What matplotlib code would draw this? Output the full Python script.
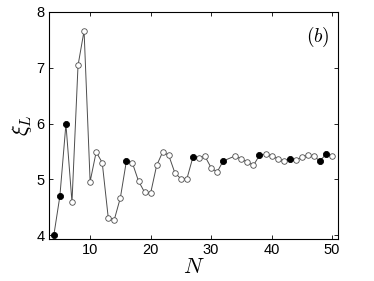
import matplotlib
matplotlib.use("Agg")
import matplotlib.pyplot as plt
import numpy as np

plt.rcParams['mathtext.fontset'] = 'cm'
plt.rcParams['font.family'] = ['Liberation Sans', 'DejaVu Sans']

# system sizes and localisation lengths
N = [4, 5, 6, 7, 8, 9, 10, 11, 12, 13, 14, 15, 16, 17, 18, 19, 20, 21, 22, 23,
     24, 25, 26, 27, 28, 29, 30, 31, 32, 34, 35, 36, 37, 38, 39, 40, 41, 42,
     43, 44, 45, 46, 47, 48, 49, 50]
xi = [4.00, 4.70, 5.99, 4.59, 7.04, 7.66, 4.96, 5.49, 5.30, 4.31, 4.28, 4.67,
      5.33, 5.29, 4.97, 4.77, 4.75, 5.25, 5.49, 5.43, 5.12, 5.01, 5.01, 5.40,
      5.39, 5.41, 5.21, 5.13, 5.33, 5.42, 5.36, 5.31, 5.25, 5.43, 5.45, 5.42,
      5.37, 5.33, 5.37, 5.34, 5.40, 5.43, 5.41, 5.33, 5.45, 5.42]
filled = [4, 5, 6, 16, 27, 32, 38, 43, 48, 49]

N = np.array(N)
xi = np.array(xi)
isfilled = np.isin(N, filled)

fig = plt.figure(figsize=(3.74, 2.81), dpi=100)
ax = fig.add_axes([0.131, 0.149, 0.773, 0.809])

ax.plot(N, xi, color='0.3', lw=0.7, zorder=1)
ax.plot(N[~isfilled], xi[~isfilled], 'o', ms=4.0, mfc='white', mec='0.3', mew=0.6, ls='none', zorder=2)
ax.plot(N[isfilled], xi[isfilled], 'o', ms=4.4, mfc='black', mec='black', mew=0.6, ls='none', zorder=3)

ax.set_xlim(3.2, 51)
ax.set_ylim(3.93, 8.0)
ax.set_xticks([10, 20, 30, 40, 50])
ax.set_yticks([4, 5, 6, 7, 8])
ax.tick_params(direction='in', top=True, right=True, length=3, width=0.6, labelsize=10.5, pad=3)
for s in ax.spines.values():
    s.set_linewidth(0.8)

ax.set_xlabel(r'$N$', fontsize=16, labelpad=0)
ax.set_ylabel(r'$\xi_L$', fontsize=16, labelpad=2)
ax.text(0.97, 0.89, r'$(b)$', transform=ax.transAxes, ha='right', va='center', fontsize=14)

fig.savefig('out.png', dpi=100)
